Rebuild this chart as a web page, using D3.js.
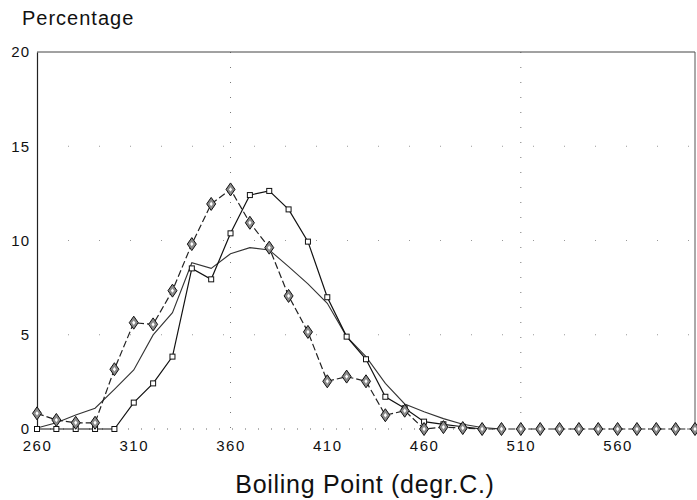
<!DOCTYPE html>
<html>
<head>
<meta charset="utf-8">
<script src="https://cdn.jsdelivr.net/npm/d3@7"></script>
<style>
  body { margin: 0; background: #fff; }
  svg text { font-family: "Liberation Sans", Arial, sans-serif; fill: #111; }
</style>
</head>
<body>
<svg id="chart" width="697" height="500"></svg>
<script>
// boiling point, degr.C.
const temps = d3.range(260, 601, 10);

// diamond series, 260..600
const diamondVals = [0.83, 0.48, 0.33, 0.33, 3.17, 5.64, 5.55, 7.34, 9.81, 11.94, 12.71,
  10.94, 9.62, 7.06, 5.15, 2.53, 2.78, 2.53, 0.73, 0.97, 0, 0.1, 0.05, 0, 0, 0, 0, 0,
  0, 0, 0, 0, 0, 0, 0];

// small square series, 260..490
const squareTemps = d3.range(260, 491, 10);
const squareVals = [0, 0, 0, 0, 0, 1.4, 2.42, 3.84, 8.52, 7.94, 10.38, 12.41, 12.63,
  11.65, 9.94, 6.99, 4.9, 3.7, 1.71, 1.1, 0.39, 0.25, 0.12, 0];

// plain line, 260..500
const lineTemps = d3.range(260, 501, 10);
const lineVals = [0.05, 0.33, 0.74, 1.1, 2.1, 3.13, 4.99, 6.17, 8.82, 8.52, 9.3, 9.62,
  9.5, 8.61, 7.7, 6.67, 4.9, 3.84, 2.42, 1.33, 0.92, 0.55, 0.25, 0.08, 0];

const xTicks = [260, 310, 360, 410, 460, 510, 560];
const yTicks = [0, 5, 10, 15, 20];

const svg = d3.select("#chart");
const pLeft = 37, pRight = 695, pTop = 52, pBottom = 429;

const x = d3.scaleLinear().domain([260, 600]).range([pLeft, pRight]);
const y = d3.scaleLinear().domain([0, 20]).range([pBottom, pTop]);

// sparse dotted grid
svg.append("g")
  .selectAll("line")
  .data([360, 510])
  .join("line")
  .attr("x1", d => x(d)).attr("x2", d => x(d))
  .attr("y1", pTop).attr("y2", pBottom)
  .attr("stroke", "#777")
  .attr("stroke-width", 1)
  .attr("stroke-dasharray", "1,14");

svg.append("g")
  .selectAll("line")
  .data([5, 10, 15])
  .join("line")
  .attr("x1", pLeft).attr("x2", pRight)
  .attr("y1", d => y(d)).attr("y2", d => y(d))
  .attr("stroke", "#999")
  .attr("stroke-width", 1)
  .attr("stroke-dasharray", "1,30");

// frame
svg.append("line")
  .attr("x1", pLeft).attr("x2", pRight).attr("y1", pTop).attr("y2", pTop)
  .attr("stroke", "#444").attr("stroke-width", 1);
svg.append("line")
  .attr("x1", pRight).attr("x2", pRight).attr("y1", pTop).attr("y2", pBottom)
  .attr("stroke", "#555").attr("stroke-width", 1);
svg.append("line")
  .attr("x1", pLeft).attr("x2", pRight).attr("y1", pBottom).attr("y2", pBottom)
  .attr("stroke", "#666").attr("stroke-width", 1).attr("stroke-dasharray", "1,12");

// axes
const yAxis = svg.append("g")
  .attr("transform", `translate(${pLeft},0)`)
  .call(d3.axisLeft(y).tickValues(yTicks).tickSize(0).tickPadding(7));
yAxis.select(".domain").attr("stroke", "#222").attr("stroke-width", 1.2);
yAxis.selectAll("text").attr("font-size", 15).attr("letter-spacing", 1);

const xAxis = svg.append("g")
  .attr("transform", `translate(0,${pBottom})`)
  .call(d3.axisBottom(x).tickValues(xTicks).tickSize(0).tickPadding(11));
xAxis.select(".domain").remove();
xAxis.selectAll("text").attr("font-size", 15).attr("letter-spacing", 1.5);

// plain line
const line = d3.line().x(d => x(d[0])).y(d => y(d[1]));
svg.append("path")
  .datum(d3.zip(lineTemps, lineVals))
  .attr("d", line)
  .attr("fill", "none")
  .attr("stroke", "#333")
  .attr("stroke-width", 1.1);

// square series
svg.append("path")
  .datum(d3.zip(squareTemps, squareVals))
  .attr("d", line)
  .attr("fill", "none")
  .attr("stroke", "#111")
  .attr("stroke-width", 1.2);
svg.append("g")
  .selectAll("rect")
  .data(d3.zip(squareTemps, squareVals))
  .join("rect")
  .attr("x", d => x(d[0]) - 2.5)
  .attr("y", d => y(d[1]) - 2.5)
  .attr("width", 5).attr("height", 5)
  .attr("fill", "#fff")
  .attr("stroke", "#111")
  .attr("stroke-width", 1);

// diamond series
svg.append("path")
  .datum(d3.zip(temps, diamondVals))
  .attr("d", line)
  .attr("fill", "none")
  .attr("stroke", "#222")
  .attr("stroke-width", 1.2)
  .attr("stroke-dasharray", "7,3");

const dia = svg.append("g")
  .selectAll("g")
  .data(d3.zip(temps, diamondVals))
  .join("g")
  .attr("transform", d => `translate(${x(d[0])},${y(d[1])})`);
dia.append("path")
  .attr("d", "M0,-6.5L4.5,0L0,6.5L-4.5,0Z")
  .attr("fill", "#8a8a8a")
  .attr("stroke", "#111")
  .attr("stroke-width", 1);
dia.append("path")
  .attr("d", "M0,-2.2L1.6,0L0,2.2L-1.6,0Z")
  .attr("fill", "#fff");

// titles
svg.append("text")
  .attr("x", 22).attr("y", 25)
  .attr("font-size", 20)
  .attr("letter-spacing", 1)
  .text("Percentage");

svg.append("text")
  .attr("x", 365).attr("y", 493)
  .attr("text-anchor", "middle")
  .attr("font-size", 25)
  .attr("letter-spacing", 0.7)
  .text("Boiling Point (degr.C.)");
</script>
</body>
</html>
